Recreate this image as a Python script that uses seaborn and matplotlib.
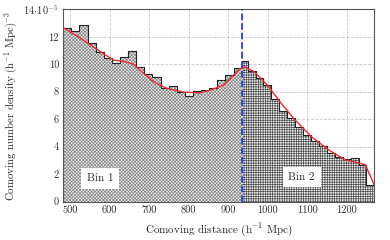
import numpy as np
import matplotlib
matplotlib.use("Agg")
import matplotlib.pyplot as plt
from matplotlib.ticker import MultipleLocator
import seaborn as sns

# histogram edges (comoving distance, h^-1 Mpc)
x_min = 482
x_split = 934
x_max = 1270
n_bin1 = 22
bin2_first_edge = 949
n_bin2 = 16

# bin heights in units of 1e-5 (h^-1 Mpc)^-3
bin1_vals = [12.66, 12.46, 12.83, 11.57, 10.9, 10.46, 10.1, 10.53, 11.0, 9.8, 9.28,
             9.04, 8.3, 8.45, 8.0, 7.7, 8.05, 8.1, 8.25, 8.85, 9.2, 9.75]
bin2_vals = [10.27, 9.5, 9.0, 8.5, 7.5, 6.6, 6.06, 5.41, 4.86, 4.44, 4.08, 3.53,
             3.24, 3.12, 3.17, 2.65, 1.2]

# smooth fit (red curve)
fit_x = [482, 520, 559, 585, 610, 635, 660, 686, 711, 745, 787, 829, 854, 888,
         913, 930, 942, 966, 1000, 1030, 1067, 1112, 1154, 1196, 1225, 1247, 1270]
fit_y = [12.66, 12.0, 11.25, 10.75, 10.3, 10.22, 10.0, 9.33, 8.72, 8.24, 7.97,
         7.92, 8.12, 8.48, 9.2, 9.69, 9.8, 9.45, 8.45, 7.3, 6.0, 4.69, 3.77, 3.04,
         2.85, 2.68, 1.2]

y_ticks = [0, 2, 4, 6, 8, 10, 12, 14]
y_ticklabels = ["0", "2", "4", "6", "8", "10", "12", r"$14\!\cdot\!10^{-5}$"]
x_ticks = [500, 600, 700, 800, 900, 1000, 1100, 1200]

edges1 = list(np.linspace(x_min, x_split, n_bin1 + 1))
edges2 = [x_split] + list(np.linspace(bin2_first_edge, x_max, n_bin2 + 1))
cent1 = [0.5 * (a + b) for a, b in zip(edges1[:-1], edges1[1:])]
cent2 = [0.5 * (a + b) for a, b in zip(edges2[:-1], edges2[1:])]

sns.set_theme(style="white")
plt.rcParams["font.family"] = "serif"
plt.rcParams["font.serif"] = ["cmr10", "DejaVu Serif"]
plt.rcParams["mathtext.fontset"] = "cm"
plt.rcParams["axes.formatter.use_mathtext"] = True
plt.rcParams["axes.unicode_minus"] = False
plt.rcParams["hatch.linewidth"] = 0.5

fig = plt.figure(figsize=(3.9, 2.4), dpi=100)
ax = fig.add_axes([0.162, 0.16, 0.798, 0.801])

# hatched fills
sns.histplot(x=cent1, weights=bin1_vals, bins=edges1, ax=ax, element="bars",
             facecolor="#eeeeee", edgecolor="#858585", linewidth=0,
             hatch="xxxxxxxxxx", zorder=2)
sns.histplot(x=cent2, weights=bin2_vals, bins=edges2, ax=ax, element="bars",
             facecolor="#f4f4f4", edgecolor="#4a4a4a", linewidth=0,
             hatch="+++++++", zorder=2)

# outlines
for c, v, e in [(cent1, bin1_vals, edges1), (cent2, bin2_vals, edges2)]:
    sns.histplot(x=c, weights=v, bins=e, ax=ax, element="step", fill=False,
                 color="#222222", linewidth=0.8, zorder=3)

sns.lineplot(x=fit_x, y=fit_y, ax=ax, color="#ee2a2a", linewidth=1.0,
             sort=False, estimator=None, zorder=4)
ax.axvline(x_split, color="#1f3fe8", ls="--", lw=1.3, zorder=5)

box = dict(facecolor="white", edgecolor="none", pad=4)
ax.text(576, 1.7, "Bin 1", ha="center", va="center", fontsize=8, bbox=box, zorder=6)
ax.text(1086, 1.8, "Bin 2", ha="center", va="center", fontsize=8, bbox=box, zorder=6)

ax.set_xlim(x_min, x_max)
ax.set_ylim(0, 14)
ax.set_xticks(x_ticks)
ax.set_xticklabels([str(t) for t in x_ticks])
ax.set_yticks(y_ticks)
ax.set_yticklabels(y_ticklabels)
ax.xaxis.set_minor_locator(MultipleLocator(50))
ax.yaxis.set_minor_locator(MultipleLocator(1))
ax.tick_params(which="both", direction="in", labelsize=7.5, colors="#333333",
               top=False, right=False, pad=3)
ax.tick_params(which="major", length=3, width=0.6)
ax.tick_params(which="minor", length=1.5, width=0.5)

ax.grid(True, which="major", ls="--", lw=0.6, color="#c8c8c8", zorder=0)
ax.set_axisbelow(True)
for s in ax.spines.values():
    s.set_color("#555555")
    s.set_linewidth(0.8)

ax.set_xlabel(r"Comoving distance (h$^{-1}$ Mpc)", fontsize=8, labelpad=4)
ax.set_ylabel(r"Comoving number density (h$^{-1}$ Mpc)$^{-3}$", fontsize=7.8, labelpad=3)

fig.savefig("out.png", dpi=100)
